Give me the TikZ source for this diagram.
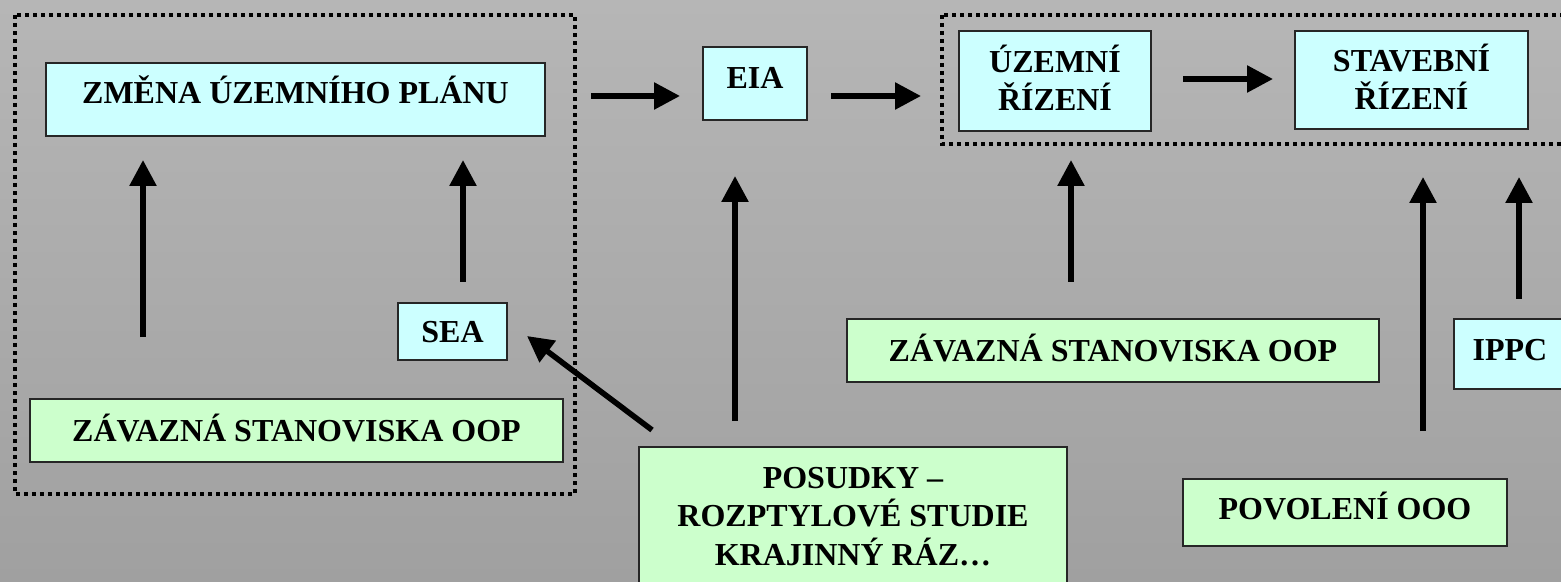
\documentclass[tikz,border=0pt]{standalone}
\usepackage{fontspec}
\setmainfont{Liberation Serif}
\usetikzlibrary{arrows.meta,calc}
\definecolor{bgtop}{RGB}{182,182,182}
\definecolor{bgbot}{RGB}{160,160,160}
\definecolor{cyanbox}{RGB}{204,255,255}
\definecolor{greenbox}{RGB}{204,255,204}
\tikzset{
  box/.style={draw=black!85, line width=1pt, inner sep=0pt, outer sep=0pt,
    font=\fontsize{16}{19.25}\selectfont\bfseries,
    text height=10.6pt, text depth=0pt, align=center},
  cbox/.style={box, fill=cyanbox},
  gbox/.style={box, fill=greenbox},
  arr/.style={line width=2.8pt, -{Triangle[length=13pt,width=13pt]}},
  dotbox/.style={line width=2pt, dash pattern=on 2pt off 2pt}
}
\begin{document}
\begin{tikzpicture}[x=0.5pt,y=-0.5pt]
\useasboundingbox (0,0) rectangle (1561,582);
\clip (0,0) rectangle (1561,582);
\shade[top color=bgtop, bottom color=bgbot] (0,0) rectangle (1561,582);

% dotted groups
\draw[dotbox] (15,15) rectangle (575,494);
\draw[dotbox] (942,15) rectangle (1640,144);

% nodes
\node[cbox, minimum width=249.5pt, minimum height=36.5pt, text depth=6.5pt] (zmena) at (295.5,99.5) {ZMĚNA ÚZEMNÍHO PLÁNU};
\node[cbox, minimum width=52pt, minimum height=36.5pt, text depth=5.5pt] (eia) at (755,83.5) {EIA};
\node[cbox, minimum width=96pt, minimum height=50pt, text height=29.85pt, text depth=0pt] (uzemni) at (1055,81) {ÚZEMNÍ\\ŘÍZENÍ};
\node[cbox, minimum width=116.5pt, minimum height=49pt, text height=29.85pt, text depth=0pt] (stav) at (1411.5,80) {STAVEBNÍ\\ŘÍZENÍ};
\node[cbox, minimum width=54.5pt, minimum height=28.5pt] (sea) at (452.5,331.5) {SEA};
\node[gbox, minimum width=266.5pt, minimum height=31.5pt] (zavL) at (296.5,430.5) {ZÁVAZNÁ STANOVISKA OOP};
\node[gbox, minimum width=266pt, minimum height=31.5pt] (zavR) at (1113,350.5) {ZÁVAZNÁ STANOVISKA OOP};
\node[cbox, minimum width=56pt, minimum height=35pt, text depth=4.5pt] (ippc) at (1510,354) {IPPC};
\node[gbox, minimum width=162pt, minimum height=33.5pt, text depth=3.5pt] (pov) at (1345,512.5) {POVOLENÍ OOO};
\node[gbox, anchor=north, minimum width=214pt, text height=59pt, text depth=20pt] (pos) at (853,447) {POSUDKY –\\ROZPTYLOVÉ STUDIE\\KRAJINNÝ RÁZ…};

% connectors
\draw[arr] ($(zmena.east)+(46,-3.5)$) -- ($(eia.west)+(-23,12.5)$);
\draw[arr] ($(eia.east)+(24,12.5)$) -- ($(uzemni.west)+(-38,15)$);
\draw[arr] ($(uzemni.east)+(32,-2)$) -- ($(stav.west)+(-22,-1)$);
\draw[arr] ($(zavL.north west)+(113,-62)$) -- ($(zmena.south west)+(97,24)$);
\draw[arr] ($(sea.north)+(10.5,-21)$) -- ($(zmena.south west)+(417,24)$);
\draw[arr] ($(pos.north west)+(13,-17)$) -- ($(sea.east)+(20,4.5)$);
\draw[arr] ($(pos.north west)+(96,-26)$) -- ($(eia.south west)+(32,56)$);
\draw[arr] ($(zavR.north west)+(224,-37)$) -- ($(uzemni.south west)+(112,29)$);
\draw[arr] ($(pov.north west)+(240,-48)$) -- ($(stav.south west)+(128,48)$);
\draw[arr] ($(ippc.north west)+(65,-20)$) -- ($(stav.south west)+(224,48)$);
\end{tikzpicture}
\end{document}
